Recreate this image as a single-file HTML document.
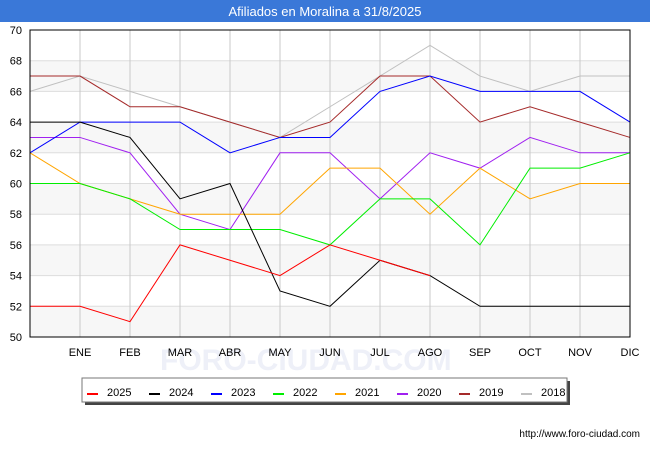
<!DOCTYPE html>
<html><head><meta charset="utf-8"><style>
body{margin:0;width:650px;height:450px;background:#fff;font-family:"Liberation Sans","DejaVu Sans",sans-serif;overflow:hidden}
</style></head><body>
<svg width="650" height="450" xmlns="http://www.w3.org/2000/svg">
<rect x="0" y="0" width="650" height="22" fill="#3a78d8"/>
<text x="325" y="16" text-anchor="middle" fill="#fff" font-size="13">Afiliados en Moralina a 31/8/2025</text>
<g id="bands"></g><g id="grid"></g>
<text x="160" y="370" font-size="30" fill="#eef0f8" font-weight="bold">FORO-CIUDAD.COM</text>
<g id="series"></g><g id="ticks"></g>
<rect x="30" y="30" width="600" height="307" fill="none" stroke="#000" stroke-width="1"/>
<rect x="85" y="381" width="485" height="24" fill="#444"/>
<rect x="82" y="378" width="485" height="24" fill="#fff" stroke="#777"/>
<g id="legend"></g>
<text x="640" y="437" text-anchor="end" font-size="10" fill="#000">http://www.foro-ciudad.com</text>
</svg>
<script>
const months=["","ENE","FEB","MAR","ABR","MAY","JUN","JUL","AGO","SEP","OCT","NOV","DIC"];
const yTicks=[50,52,54,56,58,60,62,64,66,68,70];
const years=["2025","2024","2023","2022","2021","2020","2019","2018"];
const colors=["#ff0000","#000000","#0000ff","#00ee00","#ffa500","#a020f0","#a52a2a","#c0c0c0"];
const s2025=[52,52,51,56,55,54,56,55,54];
const s2024=[64,64,63,59,60,53,52,55,54,52,52,52,52];
const s2023=[62,64,64,64,62,63,63,66,67,66,66,66,64];
const s2022=[60,60,59,57,57,57,56,59,59,56,61,61,62];
const s2021=[62,60,59,58,58,58,61,61,58,61,59,60,60];
const s2020=[63,63,62,58,57,62,62,59,62,61,63,62,62];
const s2019=[67,67,65,65,64,63,64,67,67,64,65,64,63];
const s2018=[66,67,66,65,64,63,65,67,69,67,66,67,67];
const series=[s2025,s2024,s2023,s2022,s2021,s2020,s2019,s2018];
const NS="http://www.w3.org/2000/svg";
const X=i=>30+i*50, Y=v=>337-(v-50)*307/20;
function mk(t,a,p){const e=document.createElementNS(NS,t);for(const k in a)e.setAttribute(k,a[k]);document.getElementById(p).appendChild(e);return e;}
for(let v=50;v<70;v+=4){const b=mk('rect',{x:30,y:Y(v+2),width:600,height:Y(v)-Y(v+2),fill:'#f7f7f7'},'bands');

}
yTicks.forEach(v=>{const l=mk('line',{x1:30,x2:630,y1:Y(v),y2:Y(v),stroke:'#dddddd'},'grid');


const t=mk('text',{x:22,y:Y(v)+4,'text-anchor':'end','font-size':11},'ticks');t.textContent=v;

});
months.forEach((m,i)=>{if(i>0){const l=mk('line',{x1:X(i),x2:X(i),y1:30,y2:337,stroke:'#c8c8c8'},'grid');

}
const t=mk('text',{x:X(i),y:356,'text-anchor':'middle','font-size':11},'ticks');t.textContent=m;

});
for(let k=series.length-1;k>=0;k--){const p=mk('polyline',{points:series[k].map((v,i)=>X(i)+','+Y(v)).join(' '),fill:'none',stroke:colors[k],'stroke-width':1},'series');

}
years.forEach((y,k)=>{const x0=87+k*62;
const l=mk('line',{x1:x0,x2:x0+11,y1:394,y2:394,stroke:colors[k],'stroke-width':2},'legend');


const t=mk('text',{x:x0+20,y:396,'font-size':11},'legend');t.textContent=y;

});
</script>
</body></html>
